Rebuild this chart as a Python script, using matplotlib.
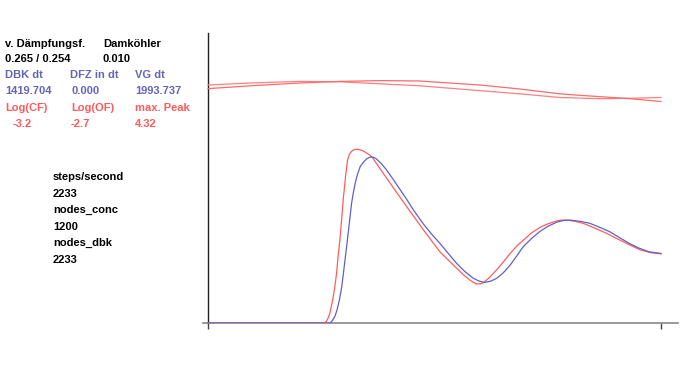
import matplotlib
matplotlib.use('Agg')
import matplotlib.pyplot as plt

plt.rcParams['font.family'] = ['Liberation Sans', 'DejaVu Sans']

### main curves (time in %, concentration)
x_red = [0, 25.6, 26.1, 26.5, 26.9, 27.2, 27.6, 28.0, 28.4, 28.7, 29.1, 29.4, 29.7,
         29.9, 30.2, 30.4, 30.8, 31.1, 31.4, 31.7, 32.0, 32.4, 32.8, 33.5, 34.1,
         34.7, 35.8, 36.5, 37.3, 38.7, 40.2, 42.0, 43.9, 47.6, 51.2, 54.9, 56.4, 57.8,
         58.6, 59.3, 60.1, 60.8, 62.2, 63.7, 65.2, 66.7, 68.1, 69.6, 71.4, 73.3,
         75.1, 77.0, 78.1, 79.2, 81.0, 82.8, 85.4, 88.0, 89.9, 91.7, 93.5, 95.4,
         97.7, 100]
y_red = [0, 0, 0.03, 0.12, 0.24, 0.40, 0.62, 0.90, 1.25, 1.64, 2.05, 2.44, 2.85,
         3.13, 3.45, 3.68, 4.05, 4.16, 4.23, 4.27, 4.30, 4.315, 4.32, 4.31, 4.29,
         4.25, 4.17, 4.08, 3.95, 3.72, 3.48, 3.19, 2.89, 2.31, 1.77, 1.36, 1.20, 1.07,
         1.01, 0.97, 0.975, 1.00, 1.14, 1.32, 1.52, 1.73, 1.91, 2.06, 2.24, 2.38,
         2.47, 2.54, 2.56, 2.56, 2.53, 2.48, 2.36, 2.23, 2.12, 2.02, 1.92, 1.82,
         1.75, 1.72]

x_blue = [0, 26.9, 27.4, 28.0, 28.5, 29.0, 29.5, 29.9, 30.6, 31.2, 31.7, 32.1, 32.5,
          33.0, 33.6, 34.3, 35.0, 35.6, 36.1, 36.6, 37.2, 38.3, 39.4, 40.9, 42.4,
          43.9, 45.3, 47.5, 49.3, 51.2, 54.9, 56.8, 58.6, 59.9, 61.1, 62.4, 63.7, 65.2,
          66.7, 68.1, 69.6, 71.4, 73.3, 75.1, 77.0, 78.5, 79.9, 82.1, 84.3, 86.5,
          88.7, 90.9, 93.0, 95.2, 97.4, 100]
y_blue = [0, 0, 0.05, 0.16, 0.33, 0.57, 0.88, 1.24, 1.90, 2.48, 2.98, 3.25, 3.48,
          3.70, 3.89, 4.00, 4.08, 4.12, 4.13, 4.12, 4.08, 3.96, 3.81, 3.57, 3.32,
          3.07, 2.82, 2.47, 2.22, 1.98, 1.48, 1.27, 1.11, 1.04, 1.01, 1.04, 1.11, 1.25,
          1.44, 1.66, 1.90, 2.10, 2.28, 2.41, 2.51, 2.55, 2.56, 2.53, 2.48, 2.38,
          2.27, 2.12, 1.98, 1.86, 1.77, 1.73]

### upper curves
x_top = [0, 9.3, 20.3, 29.1, 38.0, 46.8, 60.0, 68.9, 77.7, 86.5, 93.2, 100]
y_top1 = [5.92, 5.97, 6.01, 6.00, 5.95, 5.90, 5.78, 5.70, 5.61, 5.58, 5.59, 5.61]
y_top2 = [5.83, 5.90, 5.97, 6.01, 6.03, 6.02, 5.92, 5.82, 5.70, 5.63, 5.58, 5.51]

### info panel
info_black = [("v. Dämpfungsf.", 5, 44), ("Damköhler", 103, 44),
              ("0.265 / 0.254", 5, 59), ("0.010", 103, 59)]
info_blue = [("DBK dt", 5, 75), ("DFZ in dt", 70, 75), ("VG dt", 135, 75),
             ("1419.704", 5, 91), ("0.000", 71, 91), ("1993.737", 135, 91)]
info_red = [("Log(CF)", 5, 108), ("Log(OF)", 71, 108), ("max. Peak", 135, 108),
            ("-3.2", 13, 124), ("-2.7", 71, 124), ("4.32", 135, 124)]
stats = ["steps/second", "2233", "nodes_conc", "1200", "nodes_dbk", "2233"]

W, H = 680, 382
fig = plt.figure(figsize=(6.8, 3.82), dpi=100)
ax = fig.add_axes([203 / W, (H - 323) / H, 475 / W, 290 / H])

red = '#ff5c5c'
blue = '#6060c8'
ax.plot(x_top, y_top1, color='#ff8080', lw=0.9, zorder=3)
ax.plot(x_top, y_top2, color='#ff6a6a', lw=0.9, zorder=3)
ax.plot(x_red, y_red, color=red, lw=0.9, zorder=3)
ax.plot(x_blue, y_blue, color=blue, lw=0.9, zorder=4)

ax.set_xlim(-1.10, 103.75)
ax.set_ylim(0, 7.214)
for s in ['top', 'right']:
    ax.spines[s].set_visible(False)
ax.spines['left'].set_position(('data', 0))
ax.spines['left'].set_color('#202020')
ax.spines['bottom'].set_color('#888888')
ax.spines['left'].set_linewidth(1)
ax.spines['bottom'].set_linewidth(1.2)
ax.set_yticks([])
ax.set_xticks([0, 100])
ax.set_xticklabels([])
ax.tick_params(axis='x', direction='out', length=4.3, width=1, color='#444444')

def put(txt, x, y, c):
    fig.text(x / W, 1 - y / H, txt, color=c, fontsize=8, fontweight='bold',
             ha='left', va='center')

for t, x, y in info_black:
    put(t, x, y, 'black')
for t, x, y in info_blue:
    put(t, x, y, '#6464b8')
for t, x, y in info_red:
    put(t, x, y, '#ff5a5a')
for i, t in enumerate(stats):
    put(t, 53, 177 + i * 16.6, 'black')

fig.savefig('out.png', dpi=100)
